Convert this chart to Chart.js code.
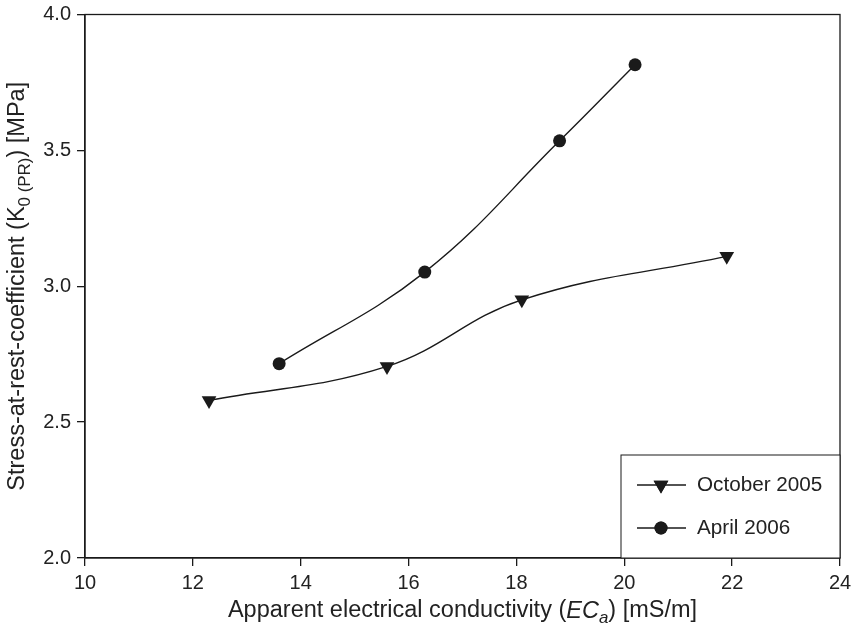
<!DOCTYPE html>
<html lang="en">
<head>
    <meta charset="UTF-8">
    <title>Stress-at-rest-coefficient vs ECa</title>
    <script src="https://cdn.jsdelivr.net/npm/chart.js"></script>
    <style>
        body { margin: 0; padding: 0; background: #fff; }
        #wrap { width: 854px; height: 629px; position: relative; }
    </style>
</head>
<body>
    <div id="wrap"><canvas id="chart"></canvas></div>
    <script>
        // data
        const octX = [12.3, 15.6, 18.1, 21.9];
        const octY = [2.58, 2.705, 2.95, 3.11];
        const aprX = [13.6, 16.3, 18.8, 20.2];
        const aprY = [2.715, 3.052, 3.535, 3.815];
        const seriesNames = ['October 2005', 'April 2006'];
        const xTicks = [10, 12, 14, 16, 18, 20, 22, 24];
        const yTicks = [2.0, 2.5, 3.0, 3.5, 4.0];

        const ink = '#1a1a1a';
        const fontFam = '"Liberation Sans", Arial, sans-serif';

        function pts(xs, ys) { return xs.map((x, i) => ({ x: x, y: ys[i] })); }

        // draws text made of pieces (normal / italic / subscript)
        function richText(ctx, parts, size) {
            let widths = parts.map(p => {
                ctx.font = (p.it ? 'italic ' : '') + (p.sub ? size * 0.72 : size) + 'px ' + fontFam;
                return ctx.measureText(p.t).width;
            });
            let total = widths.reduce((a, b) => a + b, 0);
            let x = -total / 2;
            parts.forEach((p, i) => {
                ctx.font = (p.it ? 'italic ' : '') + (p.sub ? size * 0.72 : size) + 'px ' + fontFam;
                ctx.fillText(p.t, x, p.sub ? size * 0.3 : 0);
                x += widths[i];
            });
        }

        const framePlugin = {
            id: 'frame',
            afterDraw(chart) {
                const c = chart.ctx, a = chart.chartArea;
                c.save();
                c.strokeStyle = ink;
                c.lineWidth = 1.3;
                c.strokeRect(a.left, a.top, a.right - a.left, a.bottom - a.top);

                // legend box
                const bx = 621, by = 455;
                c.lineWidth = 1;
                c.fillStyle = '#fff';
                c.fillRect(bx, by, a.right - bx, a.bottom - by);
                c.strokeRect(bx, by, a.right - bx, a.bottom - by);
                const rows = [485, 528];
                chart.data.datasets.forEach((ds, i) => {
                    c.strokeStyle = ink;
                    c.lineWidth = 1.3;
                    c.beginPath();
                    c.moveTo(637, rows[i]);
                    c.lineTo(686, rows[i]);
                    c.stroke();
                    c.fillStyle = ink;
                    Chart.helpers.drawPoint(c, {
                        pointStyle: ds.pointStyle,
                        radius: ds.pointRadius,
                        rotation: ds.pointRotation || 0,
                        borderWidth: 0
                    }, 661, rows[i]);
                    c.fill();
                    c.font = '20.7px ' + fontFam;
                    c.fillStyle = '#222';
                    c.textAlign = 'left';
                    c.textBaseline = 'middle';
                    c.fillText(seriesNames[i], 697, rows[i]);
                });

                // axis titles
                c.fillStyle = '#222';
                c.textAlign = 'left';
                c.textBaseline = 'middle';
                c.save();
                c.translate((a.left + a.right) / 2, 611);
                richText(c, [
                    { t: 'Apparent electrical conductivity (' },
                    { t: 'EC', it: true },
                    { t: 'a', it: true, sub: true },
                    { t: ') [mS/m]' }
                ], 23.5);
                c.restore();
                c.save();
                c.translate(18, (a.top + a.bottom) / 2);
                c.rotate(-Math.PI / 2);
                richText(c, [
                    { t: 'Stress-at-rest-coefficient (K' },
                    { t: '0 (PR)', sub: true },
                    { t: ') [MPa]' }
                ], 23.5);
                c.restore();
                c.restore();
            }
        };

        new Chart(document.getElementById('chart'), {
            type: 'scatter',
            data: {
                datasets: [
                    {
                        label: seriesNames[0],
                        data: pts(octX, octY),
                        showLine: true,
                        tension: 0.4,
                        borderColor: ink,
                        borderWidth: 1.4,
                        backgroundColor: ink,
                        pointStyle: 'triangle',
                        pointRotation: 180,
                        pointRadius: 8.5,
                        pointBorderWidth: 0
                    },
                    {
                        label: seriesNames[1],
                        data: pts(aprX, aprY),
                        showLine: true,
                        tension: 0.4,
                        borderColor: ink,
                        borderWidth: 1.4,
                        backgroundColor: ink,
                        pointStyle: 'circle',
                        pointRadius: 6.5,
                        pointBorderWidth: 0
                    }
                ]
            },
            options: {
                responsive: true,
                maintainAspectRatio: false,
                animation: false,
                layout: { padding: { left: 0, top: 14.5, right: 14, bottom: 0 } },
                plugins: { legend: { display: false }, tooltip: { enabled: false } },
                scales: {
                    x: {
                        type: 'linear',
                        min: 10, max: 24,
                        afterBuildTicks: s => { s.ticks = xTicks.map(v => ({ value: v })); },
                        afterFit: s => { s.height = 71; s.paddingLeft = 0; s.paddingRight = 0; },
                        grid: { drawOnChartArea: false, tickLength: 8, color: ink, lineWidth: 1.3 },
                        border: { color: ink, width: 1.3 },
                        ticks: { color: '#222', font: { size: 20, family: fontFam }, padding: 5, maxRotation: 0 }
                    },
                    y: {
                        type: 'linear',
                        min: 2, max: 4,
                        afterBuildTicks: s => { s.ticks = yTicks.map(v => ({ value: v })); },
                        afterFit: s => { s.width = 85; s.paddingTop = 0; s.paddingBottom = 0; },
                        grid: { drawOnChartArea: false, tickLength: 8, color: ink, lineWidth: 1.3 },
                        border: { color: ink, width: 1.3 },
                        ticks: { color: '#222', font: { size: 20, family: fontFam }, padding: 6,
                                 callback: v => v.toFixed(1) }
                    }
                }
            },
            plugins: [framePlugin]
        });
    </script>
</body>
</html>
